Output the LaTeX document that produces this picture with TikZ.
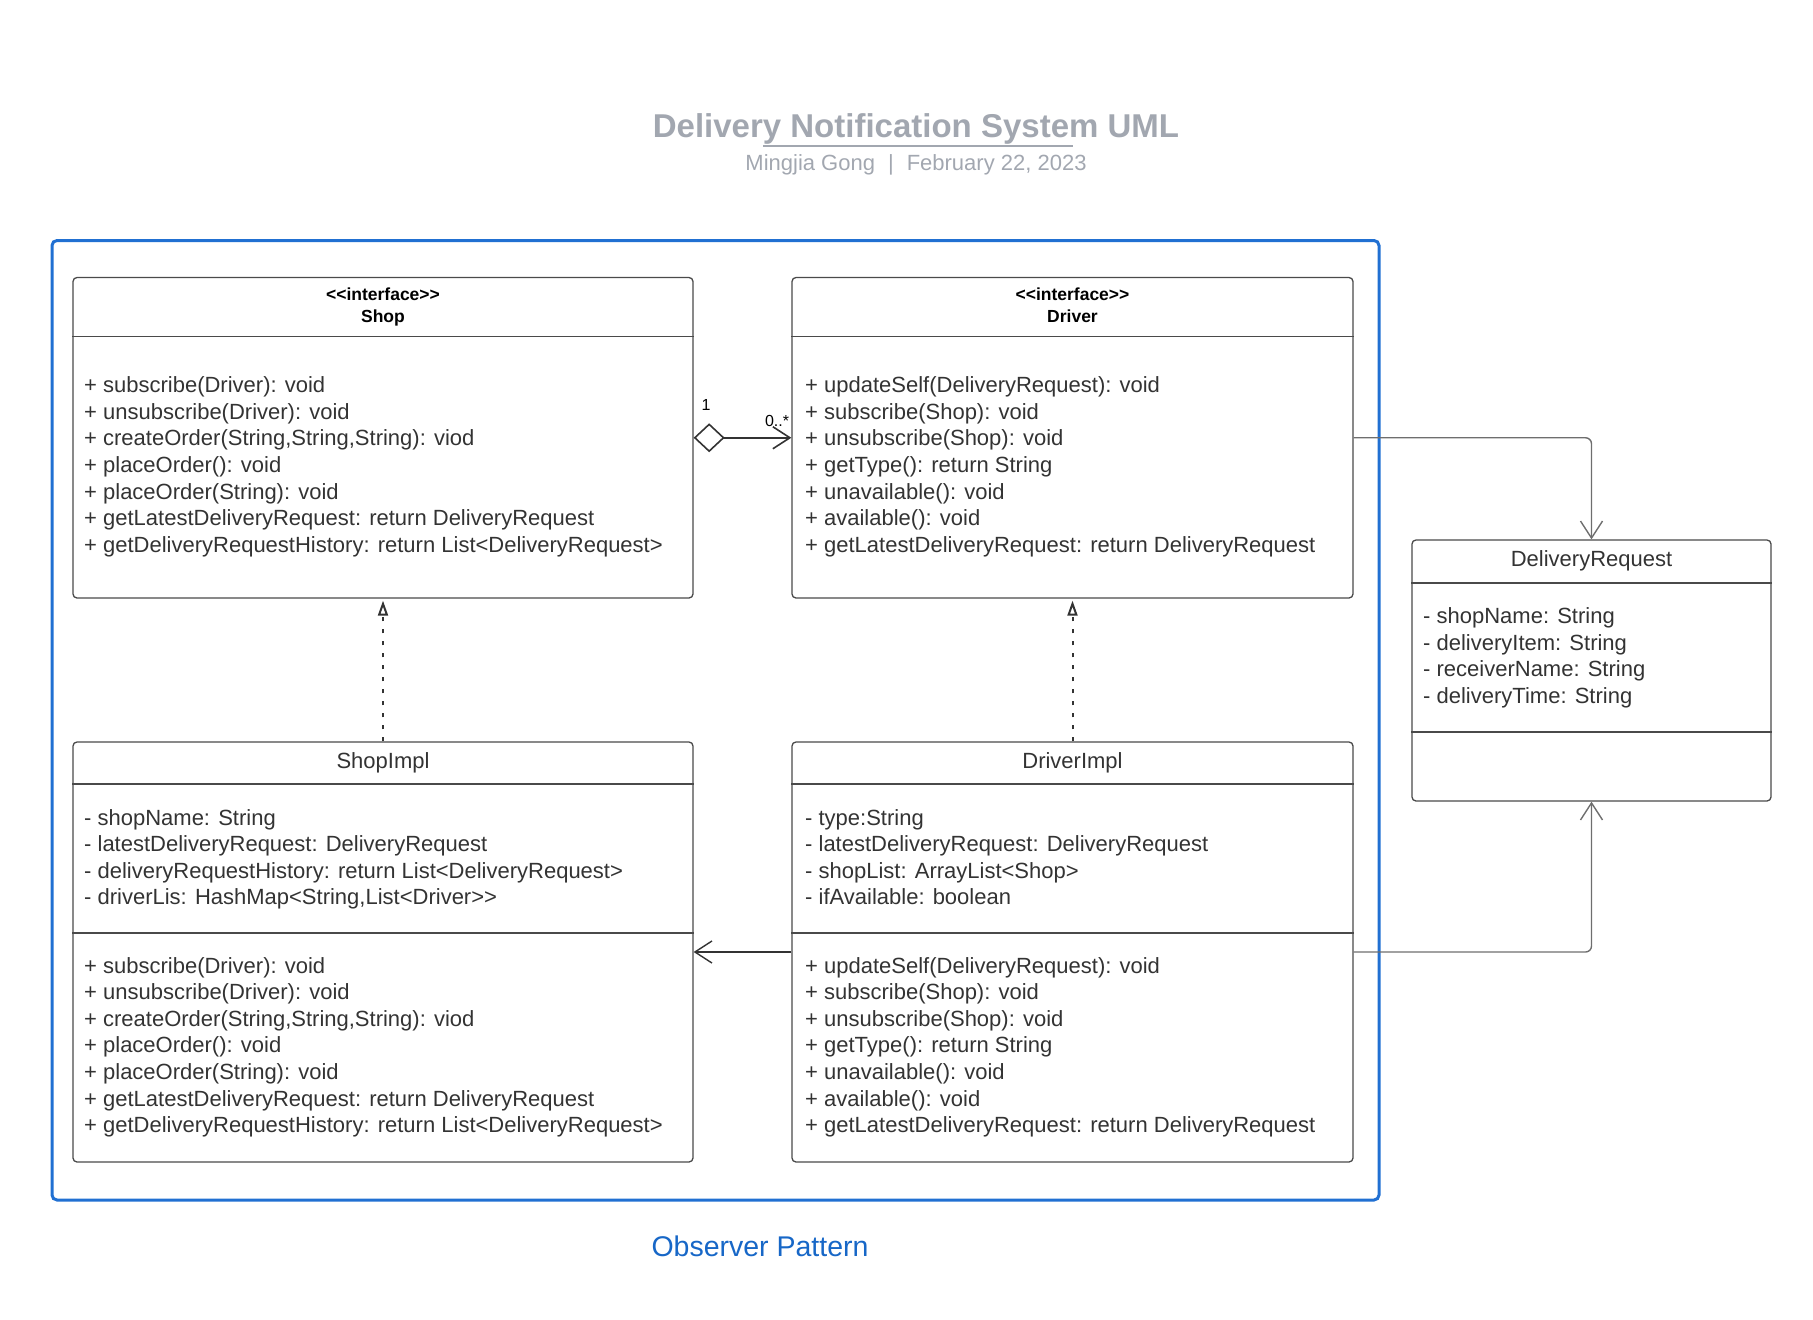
\documentclass[tikz,border=0pt]{standalone}
\usepackage{fontspec}
\setmainfont{Liberation Sans}
\usetikzlibrary{arrows.meta}

\definecolor{inkgray}{HTML}{333333}
\definecolor{boxgray}{HTML}{4A4A4A}
\definecolor{wiregray}{HTML}{6E6E6E}
\definecolor{titlegray}{HTML}{A2A7B0}
\definecolor{frameblue}{HTML}{2170D2}
\definecolor{textblue}{HTML}{1767C7}

\newcommand{\shopops}{{+ subscribe(Driver): void},{+ unsubscribe(Driver): void},{+ createOrder(String,String,String): viod},{+ placeOrder(): void},{+ placeOrder(String): void},{+ getLatestDeliveryRequest: return DeliveryRequest},{+ getDeliveryRequestHistory: return List<DeliveryRequest>}}
\newcommand{\driverops}{{+ updateSelf(DeliveryRequest): void},{+ subscribe(Shop): void},{+ unsubscribe(Shop): void},{+ getType(): return String},{+ unavailable(): void},{+ available(): void},{+ getLatestDeliveryRequest: return DeliveryRequest}}

\tikzset{
    classbox/.style={draw=boxgray, line width=1.3pt, rounded corners=4pt, inner sep=0pt},
    divider/.style={draw=boxgray, line width=1.3pt},
    member/.style={anchor=base west, inner sep=0pt, text=inkgray, font=\fontsize{22}{26}\selectfont},
    classname/.style={anchor=base, inner sep=0pt, text=inkgray, font=\fontsize{22}{26}\selectfont},
    stereo/.style={anchor=base, inner sep=0pt, text=black, font=\bfseries\fontsize{17.5}{21}\selectfont},
    mult/.style={inner sep=0pt, text=black, font=\fontsize{16}{19}\selectfont},
    aggr/.style={draw=inkgray, line width=1.6pt, {Diamond[open,length=31pt,width=29pt]}-{Straight Barb[length=17pt,width=22pt]}},
    realize/.style={draw=inkgray, line width=2pt, dash pattern=on 4pt off 8pt, -{Triangle[open,length=15pt,width=10pt]}},
    dep/.style={draw=inkgray, line width=1.4pt, -{Straight Barb[length=17pt,width=22pt]}},
}

\begin{document}
\begin{tikzpicture}[x=1pt,y=-1pt]
    \useasboundingbox (0,0) rectangle (1813,1320);

    \node[font=\bfseries\fontsize{33}{38}\selectfont, text=titlegray] at (916,128.5) (title) {Delivery Notification System UML};
    \draw[titlegray, line width=2pt] (763,146) -- (1073,146);
    \node[font=\fontsize{22}{26}\selectfont, text=titlegray] at (916,164.5) (subtitle) {Mingjia Gong\hspace{13pt}|\hspace{13pt}February 22, 2023};

    \draw[frameblue, line width=3pt, rounded corners=5pt] (52,240.5) rectangle (1379,1200);
    \node[font=\fontsize{28.5}{32}\selectfont, text=textblue] at (760,1246) (pattern) {Observer Pattern};

    % interfaces
    \node[classbox, minimum width=620pt, minimum height=320.5pt] at (383,437.75) (shop) {};
    \draw[divider] (shop.west|-0,336.5) -- (shop.east|-0,336.5);
    \node[stereo] at (383,300) (shopst) {<{}<interface>{}>};
    \node[stereo] at (383,322) (shopname) {Shop};
    \foreach \txt [count=\i from 0] in \shopops
        \node[member] (shopop\i) at (84,392.6+26.6*\i) {\txt};

    \node[classbox, minimum width=561pt, minimum height=320.5pt] at (1072.5,437.75) (driver) {};
    \draw[divider] (driver.west|-0,336.5) -- (driver.east|-0,336.5);
    \node[stereo] at (1072.5,300) (driverst) {<{}<interface>{}>};
    \node[stereo] at (1072.5,322) (drivername) {Driver};
    \foreach \txt [count=\i from 0] in \driverops
        \node[member] (driverop\i) at (805,392.6+26.6*\i) {\txt};

    % implementations
    \node[classbox, minimum width=620pt, minimum height=420pt] at (383,952) (shopimpl) {};
    \draw[divider] (shopimpl.west|-0,784) -- (shopimpl.east|-0,784);
    \draw[divider] (shopimpl.west|-0,933) -- (shopimpl.east|-0,933);
    \node[classname] at (383,768.5) (shopimplname) {ShopImpl};
    \foreach \txt [count=\i from 0] in {{- shopName: String},{- latestDeliveryRequest: DeliveryRequest},{- deliveryRequestHistory: return List<DeliveryRequest>},{- driverLis: HashMap<String,List<Driver>{}>}}
        \node[member] (shopimplat\i) at (84,825+26.6*\i) {\txt};
    \foreach \txt [count=\i from 0] in \shopops
        \node[member] (shopimplop\i) at (84,973.1+26.6*\i) {\txt};

    \node[classbox, minimum width=561pt, minimum height=420pt] at (1072.5,952) (driverimpl) {};
    \draw[divider] (driverimpl.west|-0,784) -- (driverimpl.east|-0,784);
    \draw[divider] (driverimpl.west|-0,933) -- (driverimpl.east|-0,933);
    \node[classname] at (1072.5,768.5) (driverimplname) {DriverImpl};
    \foreach \txt [count=\i from 0] in {{- type:String},{- latestDeliveryRequest: DeliveryRequest},{- shopList: ArrayList<Shop>},{- ifAvailable: boolean}}
        \node[member] (driverimplat\i) at (805,825+26.6*\i) {\txt};
    \foreach \txt [count=\i from 0] in \driverops
        \node[member] (driverimplop\i) at (805,973.1+26.6*\i) {\txt};

    % request
    \node[classbox, minimum width=359pt, minimum height=261pt] at (1591.5,670.5) (dreq) {};
    \draw[divider] (dreq.west|-0,583) -- (dreq.east|-0,583);
    \draw[divider] (dreq.west|-0,732) -- (dreq.east|-0,732);
    \node[classname] at (1591.5,566) (dreqname) {DeliveryRequest};
    \foreach \txt [count=\i from 0] in {{- shopName: String},{- deliveryItem: String},{- receiverName: String},{- deliveryTime: String}}
        \node[member] (dreqat\i) at (1423,623.5+26.6*\i) {\txt};

    % relations
    \draw[aggr] (shop.east) -- (driver.west);
    \node[mult] at (706,405) (one) {1};
    \node[mult] at (777,421) (many) {0..*};
    \draw[realize] (shopimpl.north) -- ([yshift=-2pt]shop.south);
    \draw[realize] (driverimpl.north) -- ([yshift=-2pt]driver.south);
    \draw[dep] (driverimpl.west) -- (shopimpl.east);
    \draw[dep, draw=wiregray, rounded corners=6pt] (driver.east) -| (dreq.north);
    \draw[dep, draw=wiregray, rounded corners=6pt] (driverimpl.east) -| (dreq.south);
\end{tikzpicture}
\end{document}
